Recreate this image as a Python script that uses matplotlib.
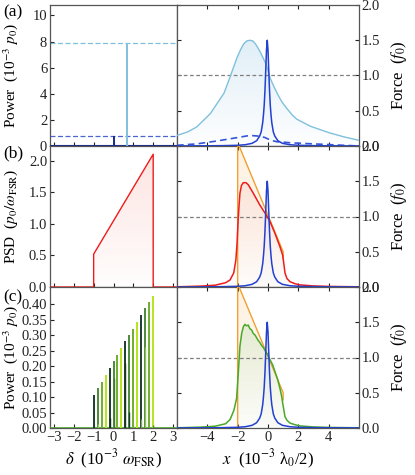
import numpy as np
import matplotlib
matplotlib.use('Agg')
import matplotlib.pyplot as plt
import matplotlib.colors as mcolors
from matplotlib.patches import Polygon

plt.rcParams['font.family'] = ['Liberation Serif', 'DejaVu Serif']
plt.rcParams['mathtext.fontset'] = 'stix'
plt.rcParams['font.size'] = 10.5

# ---- data ----
# (a) left: two spectral lines (delta, power)
line_a_pos = [0.0, 0.7]
line_a_pow = [0.8, 7.9]

# (b) left: PSD outline
psd_d = [-3.2, -1.0, -1.0, 2.0, 2.0, 3.2]
psd_v = [0.0, 0.0, 0.52, 2.1, 0.0, 0.0]

# (c) left: comb lines
comb_d = [-1.0, -0.8, -0.6, -0.4, -0.2, 0.0, 0.2, 0.4, 0.6, 0.8, 1.0, 1.2, 1.4, 1.6, 1.8, 2.0]
comb_p = [0.108, 0.13, 0.15, 0.172, 0.193, 0.215, 0.236, 0.257,
          0.28, 0.30, 0.321, 0.343, 0.365, 0.386, 0.407, 0.427]
comb_cols = ['#1c3d2e', '#4c8a3a', '#6fae2e', '#b8e41c']
over_d = [-0.8, -0.2, 0.0, 0.6, 0.8, 1.4, 1.6, 2.0]
over_p = [0.012, 0.032, 0.16, 0.21, 0.052, 0.03, 0.26, 0.01]
over_c = ['#9ccc60', '#0e2a18', '#3f7a2a', '#123a18', '#1c3d2e', '#7aa860', '#8fbf50', '#4c8a3a']

# right: narrow cavity force peak (x, F)
pk_x = [-6.0, -4.0, -3.0, -2.0, -1.5, -1.05, -0.75, -0.55, -0.45, -0.35, -0.3, -0.25,
        -0.2, -0.15, -0.1, -0.05, 0.0, 0.05, 0.1, 0.15, 0.2, 0.25, 0.35, 0.45, 0.65,
        0.95, 1.45, 2.0, 3.0, 4.0, 6.0]
pk_f = [0.001, 0.003, 0.005, 0.01, 0.018, 0.038, 0.075, 0.14, 0.2, 0.33, 0.44, 0.58,
        0.79, 1.07, 1.36, 1.5, 1.36, 1.07, 0.79, 0.58, 0.44, 0.33, 0.2, 0.14, 0.075,
        0.038, 0.018, 0.01, 0.005, 0.003, 0.001]

# (a) right: broad force (light blue) and dashed low curve
broad_x = [-6.0, -5.3, -4.7, -3.8, -2.9, -2.5, -2.05, -1.8, -1.6, -1.4, -1.2, -1.0,
           -0.8, -0.55, -0.3, -0.15, 0.0, 0.15, 0.35, 0.6, 0.9, 1.25, 1.6, 1.9, 2.8,
           4.0, 5.0, 6.0]
broad_f = [0.15, 0.2, 0.27, 0.46, 0.75, 0.98, 1.25, 1.37, 1.45, 1.49, 1.5, 1.49,
           1.44, 1.35, 1.24, 1.17, 1.07, 0.96, 0.86, 0.75, 0.63, 0.53, 0.44, 0.38, 0.28,
           0.19, 0.13, 0.08]
dash_x = [-6.0, -4.7, -3.4, -2.0, -1.2, -0.6, -0.2, 0.2, 0.6, 1.0, 1.5, 2.5, 4.0, 6.0]
dash_f = [0.01, 0.03, 0.07, 0.12, 0.15, 0.14, 0.12, 0.08, 0.06, 0.055, 0.045, 0.035, 0.02, 0.0]

# (b),(c) right: ideal (orange) force outline
ideal_x = [-2.0, -2.0, 1.0, 1.0]
ideal_f = [0.0, 2.05, 0.5, 0.4]

# (b) right: red force
red_x = [-6.0, -4.5, -3.5, -2.8, -2.5, -2.26, -2.12, -2.04, -1.98, -1.92, -1.85, -1.75,
         -1.63, -1.45, -1.3, -0.97, -0.53, -0.2, 0.13, 0.46, 0.79, 0.97, 1.05, 1.12,
         1.25, 1.45, 1.8, 2.1, 3.0, 4.1, 6.0]
red_f = [0.003, 0.012, 0.025, 0.06, 0.1, 0.2, 0.38, 0.62, 0.9, 1.12, 1.33, 1.44,
         1.48, 1.48, 1.45, 1.33, 1.16, 1.05, 0.93, 0.76, 0.57, 0.45, 0.32, 0.2,
         0.12, 0.075, 0.045, 0.03, 0.015, 0.008, 0.003]

# (c) right: green force
grn_x = [-6.0, -4.5, -3.5, -2.8, -2.5, -2.25, -2.07, -1.96, -1.85, -1.73, -1.62, -1.52,
         -1.42, -1.3, -1.2, -1.08, -0.97, -0.86, -0.75, -0.64, -0.53, -0.42, -0.3, -0.2,
         -0.05, 0.13, 0.3, 0.46, 0.62, 0.79, 0.9, 0.97, 1.05, 1.12, 1.25, 1.45, 1.8,
         2.1, 3.0, 4.1, 6.0]
grn_f = [0.003, 0.012, 0.025, 0.06, 0.12, 0.25, 0.42, 0.78, 1.16, 1.35, 1.44, 1.47,
         1.45, 1.46, 1.41, 1.39, 1.34, 1.32, 1.28, 1.24, 1.21, 1.17, 1.14, 1.1,
         1.05, 0.97, 0.9, 0.8, 0.7, 0.56, 0.45, 0.35, 0.25, 0.16, 0.11, 0.07, 0.045,
         0.03, 0.015, 0.008, 0.003]

# ---- styles ----
C_LB = '#7fc1dc'
C_DB = '#2340d0'
C_NAVY = '#1a2a8a'
C_RED = '#ee1c1c'
C_OR = '#f0a030'
C_GR = '#4aa82a'
C_GRAY = '#808080'
SPINE = '#555555'


def grad_fill(ax, x, y, color, a_top=0.3, z=1):
    x = np.asarray(x, float)
    y = np.asarray(y, float)
    img = np.zeros((200, 1, 4))
    img[:, :, :3] = mcolors.to_rgb(color)
    img[:, 0, 3] = np.linspace(0.02, a_top, 200)
    im = ax.imshow(img, aspect='auto', origin='lower', zorder=z,
                   extent=[x.min(), x.max(), 0, y.max()], interpolation='bilinear')
    verts = np.vstack([[x[0], 0], np.column_stack([x, y]), [x[-1], 0]])
    poly = Polygon(verts, closed=True, fc='none', ec='none')
    ax.add_patch(poly)
    im.set_clip_path(poly)


fig = plt.figure(figsize=(4.15, 4.75), dpi=100)
xl0, wl = 50 / 415, 127 / 415
xr0, wr = 177 / 415, 182 / 415
h = 141 / 475
bots = [1 - 146 / 475, 1 - 287 / 475, 1 - 428 / 475]

axL = [fig.add_axes([xl0, b, wl, h]) for b in bots]
axR = [fig.add_axes([xr0, b, wr, h]) for b in bots]

# (a) left
a = axL[0]
a.axhline(0, color=C_NAVY, lw=1.5, zorder=3)
a.axhline(line_a_pow[1], color=C_LB, lw=0.9, ls=(0, (4, 2)))
a.axhline(line_a_pow[0], color='#4a66d0', lw=0.9, ls=(0, (4, 2)))
a.vlines(line_a_pos[0], 0, line_a_pow[0], color=C_NAVY, lw=1.4, zorder=4)
a.vlines(line_a_pos[1], 0, line_a_pow[1], color=C_LB, lw=1.4, zorder=4)
a.set_ylim(0, 10.8)
a.set_yticks([0, 2, 4, 6, 8, 10])
a.set_ylabel(r'Power  (10$^{-3}$ $p_0$)', fontsize=11)

# (b) left
b = axL[1]
grad_fill(b, psd_d[1:5], psd_v[1:5], '#f7a69c', a_top=0.3)
b.plot(psd_d, psd_v, color=C_RED, lw=1.0, zorder=3)
b.set_ylim(0, 2.23)
b.set_yticks([0, 0.5, 1.0, 1.5, 2.0])
b.set_yticklabels(['0.0', '0.5', '1.0', '1.5', '2.0'])
b.set_ylabel(r'PSD  ($p_0/\omega_{\rm FSR}$)', fontsize=11)

# (c) left
c = axL[2]
c.axhline(0, color=C_GR, lw=1.2, zorder=3)
for i, (d, p) in enumerate(zip(comb_d, comb_p)):
    c.vlines(d, 0, p, color=comb_cols[i % 4], lw=1.4, zorder=4)
for d, p, col in zip(over_d, over_p, over_c):
    c.vlines(d, 0, p, color=col, lw=1.0, zorder=5)
c.set_ylim(0, 0.455)
c.set_yticks(np.arange(0, 0.41, 0.05))
c.set_yticklabels(['%.2f' % v for v in np.arange(0, 0.41, 0.05)])
c.set_ylabel(r'Power  (10$^{-3}$ $p_0$)', fontsize=11)
c.set_xlabel(r'$\delta$  (10$^{-3}$ $\omega_{\rm FSR}$)', fontsize=12, labelpad=3)

for ax in axL:
    ax.set_xlim(-3.2, 3.2)
    ax.set_xticks([-3, -2, -1, 0, 1, 2, 3])
    ax.tick_params(direction='in', length=3, width=0.8, colors='#222222', pad=2)
    ax.tick_params(axis='x', labelbottom=(ax is c))
    ax.yaxis.set_label_coords(-0.235, 0.5)
    for s in ax.spines.values():
        s.set_color(SPINE)
        s.set_linewidth(0.9)

# (a) right
r = axR[0]
grad_fill(r, broad_x, broad_f, '#a8cfe8', a_top=0.35)
grad_fill(r, pk_x, pk_f, '#c0d8f4', a_top=0.3, z=1.5)
r.axhline(1.0, color=C_GRAY, lw=0.9, ls=(0, (3, 2)), zorder=2)
r.plot(broad_x, broad_f, color=C_LB, lw=1.0, zorder=3)
r.plot(dash_x, dash_f, color='#3556d8', lw=1.2, ls=(0, (4, 2.5)), zorder=3)
r.plot(pk_x, pk_f, color=C_DB, lw=1.1, zorder=4)

# (b) right
r = axR[1]
grad_fill(r, ideal_x, ideal_f, '#f9cc90', a_top=0.28)
grad_fill(r, red_x, red_f, '#f6b4aa', a_top=0.25, z=1.2)
grad_fill(r, pk_x, pk_f, '#c0d8f4', a_top=0.3, z=1.5)
r.axhline(1.0, color=C_GRAY, lw=0.9, ls=(0, (3, 2)), zorder=2)
r.plot(ideal_x, ideal_f, color=C_OR, lw=1.0, zorder=3)
r.plot(red_x, red_f, color=C_RED, lw=1.1, zorder=4)
r.plot(pk_x, pk_f, color=C_DB, lw=1.1, zorder=5)

# (c) right
r = axR[2]
grad_fill(r, ideal_x, ideal_f, '#f9cc90', a_top=0.28)
grad_fill(r, grn_x, grn_f, '#a8d49a', a_top=0.28, z=1.2)
grad_fill(r, pk_x, pk_f, '#c0d8f4', a_top=0.3, z=1.5)
r.axhline(1.0, color=C_GRAY, lw=0.9, ls=(0, (3, 2)), zorder=2)
r.plot(ideal_x, ideal_f, color=C_OR, lw=1.0, zorder=3)
r.plot(grn_x, grn_f, color=C_GR, lw=1.1, zorder=4)
r.plot(pk_x, pk_f, color=C_DB, lw=1.1, zorder=5)
r.set_xlabel(r'$x$  (10$^{-3}$ λ$_0$/2)', fontsize=12, labelpad=3)

for ax in axR:
    ax.set_xlim(-6, 6)
    ax.set_ylim(0, 2.0)
    ax.set_xticks([-4, -2, 0, 2, 4])
    ax.set_yticks([0, 0.5, 1.0, 1.5, 2.0])
    ax.set_yticklabels(['0.0', '0.5', '1.0', '1.5', '2.0'])
    ax.yaxis.set_label_position('right')
    ax.tick_params(direction='in', length=3, width=0.8, colors='#222222', pad=2,
                   top=True, bottom=True, left=True, right=True,
                   labelleft=False, labelright=True, labelbottom=(ax is axR[2]))
    ax.set_ylabel(r'Force  ($f_0$)', fontsize=12)
    ax.yaxis.set_label_coords(1.165, 0.5)
    for s in ax.spines.values():
        s.set_color(SPINE)
        s.set_linewidth(0.9)

for lab, yy in zip(['(a)', '(b)', '(c)'], [12, 153, 297]):
    fig.text(3 / 415, 1 - yy / 475, lab, fontsize=12.5, va='center', ha='left')

fig.savefig('out.png', dpi=100)
